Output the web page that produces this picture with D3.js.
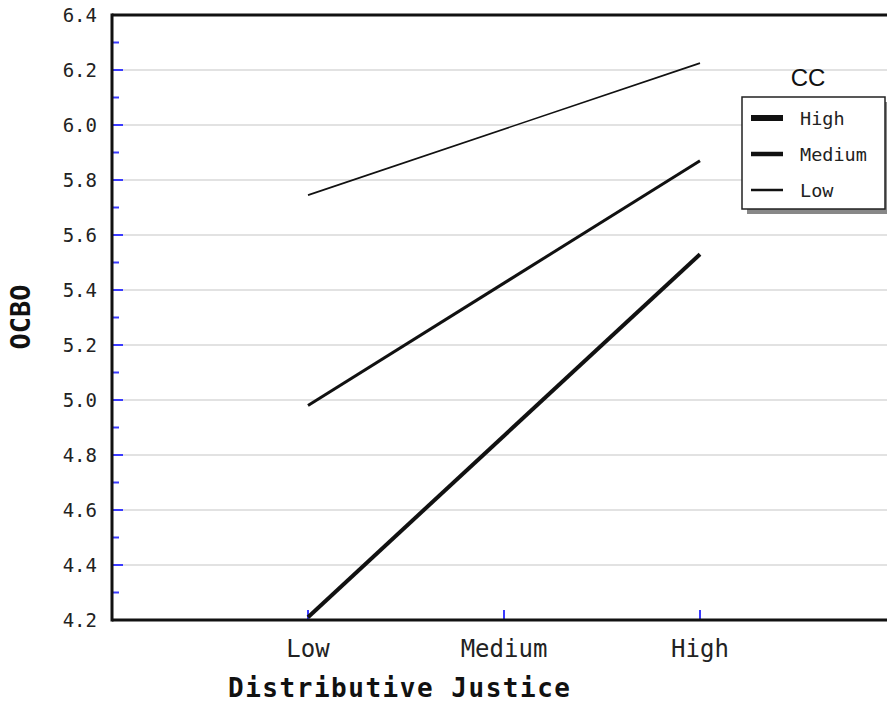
<!DOCTYPE html>
<html><head><meta charset="utf-8">
<script src="https://cdn.jsdelivr.net/npm/d3@7"></script>
<style>html,body{margin:0;padding:0;background:#fff;overflow:hidden}</style>
</head><body>
<svg id="c" width="887" height="702"></svg>
<script>
const xCats = ["Low", "Medium", "High"];
const seriesNames = ["High", "Medium", "Low"];
const highCC = [4.21, 5.53];
const mediumCC = [4.98, 5.87];
const lowCC = [5.745, 6.225];
const xPoints = ["Low", "High"];
const yTicks = [4.2, 4.4, 4.6, 4.8, 5.0, 5.2, 5.4, 5.6, 5.8, 6.0, 6.2, 6.4];
const yMinor = [4.3, 4.5, 4.7, 4.9, 5.1, 5.3, 5.5, 5.7, 5.9, 6.1, 6.3];

const series = [
  {name: seriesNames[0], values: highCC, w: 4, lw: 6},
  {name: seriesNames[1], values: mediumCC, w: 3, lw: 4.5},
  {name: seriesNames[2], values: lowCC, w: 1.6, lw: 2.5}
];

const svg = d3.select("#c");
const L = 112, T = 15, B = 620, R = 896;
const x = d3.scalePoint().domain(xCats).range([L, R]).padding(1);
const y = d3.scaleLinear().domain([4.2, 6.4]).range([B, T]);

// grid
svg.append("g").selectAll("line").data(yTicks.slice(1)).join("line")
  .attr("x1", L).attr("x2", 887).attr("y1", d => y(d)).attr("y2", d => y(d))
  .attr("stroke", "#e2e2e2").attr("stroke-width", 2);

// y ticks (blue)
svg.append("g").selectAll("line").data(yTicks.slice(1, -1)).join("line")
  .attr("x1", L).attr("x2", L + 11).attr("y1", d => y(d)).attr("y2", d => y(d))
  .attr("stroke", "#3a3aff").attr("stroke-width", 2);
svg.append("g").selectAll("line").data(yMinor).join("line")
  .attr("x1", L).attr("x2", L + 7).attr("y1", d => y(d)).attr("y2", d => y(d))
  .attr("stroke", "#3a3aff").attr("stroke-width", 2);
// x ticks
svg.append("g").selectAll("line").data(xCats).join("line")
  .attr("x1", d => x(d)).attr("x2", d => x(d)).attr("y1", B).attr("y2", B - 10)
  .attr("stroke", "#3a3aff").attr("stroke-width", 2);

// y labels
svg.append("g").selectAll("text").data(yTicks).join("text")
  .attr("x", 97).attr("y", d => y(d)).attr("dy", "0.36em")
  .attr("text-anchor", "end")
  .attr("font-family", "DejaVu Sans Mono").attr("font-size", 19).attr("fill", "#222")
  .text(d => d.toFixed(1));

// x labels
svg.append("g").selectAll("text").data(xCats).join("text")
  .attr("x", d => x(d)).attr("y", 657)
  .attr("text-anchor", "middle")
  .attr("font-family", "DejaVu Sans Mono").attr("font-size", 24).attr("fill", "#222")
  .text(d => d);

// axis titles
svg.append("text").attr("x", 399).attr("y", 697).attr("text-anchor", "middle")
  .attr("font-family", "DejaVu Sans Mono").attr("font-weight", "bold").attr("font-size", 26)
  .attr("textLength", 342).attr("lengthAdjust", "spacing")
  .attr("fill", "#111").text("Distributive Justice");
svg.append("text").attr("transform", "translate(30,317) rotate(-90)").attr("text-anchor", "middle")
  .attr("font-family", "DejaVu Sans Mono").attr("font-weight", "bold").attr("font-size", 27)
  .attr("fill", "#111").text("OCBO");

// lines
const line = d3.line().x((d, i) => x(xPoints[i])).y(d => y(d));
svg.append("g").selectAll("path").data(series).join("path")
  .attr("d", d => line(d.values)).attr("fill", "none")
  .attr("stroke", "#111").attr("stroke-width", d => d.w);

// frame
svg.append("line").attr("x1", L).attr("x2", 887).attr("y1", T).attr("y2", T).attr("stroke", "#111").attr("stroke-width", 3);
svg.append("line").attr("x1", L).attr("x2", 887).attr("y1", B).attr("y2", B).attr("stroke", "#111").attr("stroke-width", 3);
svg.append("line").attr("x1", L).attr("x2", L).attr("y1", T - 1.5).attr("y2", B + 1.5).attr("stroke", "#111").attr("stroke-width", 3);

// legend
const lg = svg.append("g");
lg.append("rect").attr("x", 747).attr("y", 102).attr("width", 143).attr("height", 112).attr("fill", "#888");
lg.append("rect").attr("x", 742).attr("y", 97).attr("width", 143).attr("height", 112)
  .attr("fill", "#fff").attr("stroke", "#222").attr("stroke-width", 1.5);
lg.append("text").attr("x", 808).attr("y", 86).attr("text-anchor", "middle")
  .attr("font-family", "Liberation Sans").attr("font-size", 24).attr("fill", "#111").text("CC");
const ly = d3.scalePoint().domain(seriesNames).range([118, 190]);
lg.selectAll("line.sw").data(series).join("line").attr("class", "sw")
  .attr("x1", 751).attr("x2", 783).attr("y1", d => ly(d.name)).attr("y2", d => ly(d.name))
  .attr("stroke", "#111").attr("stroke-width", d => d.lw);
lg.selectAll("text.lt").data(series).join("text").attr("class", "lt")
  .attr("x", 800).attr("y", d => ly(d.name)).attr("dy", "0.36em")
  .attr("font-family", "DejaVu Sans Mono").attr("font-size", 18.5).attr("fill", "#222")
  .text(d => d.name);
</script>
</body></html>
